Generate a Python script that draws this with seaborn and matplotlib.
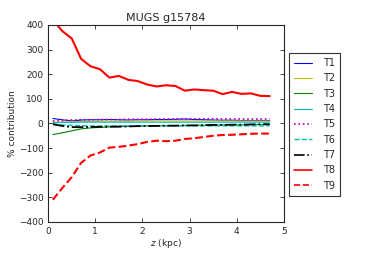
import matplotlib
matplotlib.use("Agg")
import matplotlib.pyplot as plt
from matplotlib.lines import Line2D
import seaborn as sns
import numpy as np
import pandas as pd

z = [0.1, 0.3, 0.5, 0.7, 0.9, 1.1, 1.3, 1.5, 1.7, 1.9, 2.1, 2.3,
     2.5, 2.7, 2.9, 3.1, 3.3, 3.5, 3.7, 3.9, 4.1, 4.3, 4.5, 4.7]

T1 = [20, 15, 10, 14, 15, 15, 16, 15, 14, 15, 15, 16, 16, 17, 18, 16, 15, 14, 13, 13, 12, 12, 12, 12]
T2 = [5, 6, 7, 8, 8, 9, 9, 9, 9, 10, 10, 10, 10, 10, 10, 10, 10, 10, 10, 10, 10, 10, 10, 10]
T3 = [-45, -38, -30, -22, -18, -16, -14, -13, -12, -11, -10, -10, -9, -9, -8, -8, -7, -7, -6, -6, -6, -5, -5, -5]
T4 = [3, 4, 4, 5, 5, 5, 5, 5, 5, 5, 5, 5, 5, 5, 5, 5, 5, 5, 5, 5, 5, 5, 5, 5]
T5 = [10, 12, 14, 15, 15, 16, 16, 16, 17, 17, 17, 18, 18, 18, 19, 19, 19, 19, 18, 18, 18, 18, 18, 18]
T6 = [-3, -6, -8, -9, -10, -10, -10, -10, -10, -10, -10, -10, -10, -10, -10, -10, -10, -10, -10, -10, -10, -10, -10, -10]
T7 = [-3, -10, -15, -15, -14, -14, -13, -13, -12, -11, -10, -10, -9, -9, -8, -8, -7, -6, -6, -5, -5, -4, -3, -3]
T8 = [420, 375, 345, 262, 232, 220, 186, 193, 177, 172, 158, 150,
      155, 152, 133, 138, 135, 133, 119, 128, 120, 122, 112, 111]
T9 = [-310, -262, -218, -160, -130, -118, -98, -95, -90, -84, -75, -70,
      -72, -70, -63, -60, -55, -50, -47, -46, -44, -42, -41, -41]

names = ["T1", "T2", "T3", "T4", "T5", "T6", "T7", "T8", "T9"]
series = [T1, T2, T3, T4, T5, T6, T7, T8, T9]

df = pd.DataFrame({"z": np.tile(z, len(names)),
                   "value": np.concatenate(series),
                   "term": np.repeat(names, len(z))})

sns.set_style("ticks")
plt.rcParams["font.family"] = ["DejaVu Sans"]
plt.rcParams["xtick.direction"] = "in"
plt.rcParams["ytick.direction"] = "in"
plt.rcParams["xtick.top"] = True
plt.rcParams["ytick.right"] = True

colors = ["#0000ff", "#bfbf00", "#008000", "#00bfbf", "#bf00bf",
          "#00bfbf", "#000000", "#ff0000", "#ff0000"]
styles = ["-", "-", "-", "-", ":", "--", "-.", "-", "--"]
widths = [0.8, 0.8, 0.8, 0.8, 1.2, 1.0, 1.3, 1.5, 1.5]

fig = plt.figure(figsize=(3.82, 2.54), dpi=100)
ax = fig.add_axes([0.126, 0.126, 0.617, 0.776])

for name, c, ls, lw in zip(names, colors, styles, widths):
    sub = df[df["term"] == name]
    sns.lineplot(data=sub, x="z", y="value", ax=ax, color=c, linestyle=ls,
                 linewidth=lw, legend=False)

ax.set_xlim(0, 5)
ax.set_ylim(-400, 400)
ax.set_xticks([0, 1, 2, 3, 4, 5])
ax.set_yticks(range(-400, 401, 100))
ax.tick_params(labelsize=6.5, length=3, width=0.6)
for s in ax.spines.values():
    s.set_linewidth(0.8)
ax.set_xlabel("$z$ (kpc)", fontsize=6.5, labelpad=1)
ax.set_ylabel("% contribution", fontsize=6.5, labelpad=1)
ax.set_title("MUGS g15784", fontsize=8, pad=3)

handles = [Line2D([], [], color=c, linestyle=ls, linewidth=min(lw, 1.2))
           for c, ls, lw in zip(colors, styles, widths)]
leg = fig.legend(handles, names, loc="upper left", bbox_to_anchor=(0.757, 0.791),
                 borderaxespad=0, fontsize=7, frameon=True, fancybox=False,
                 edgecolor="black", handlelength=1.8, labelspacing=0.55,
                 borderpad=0.5, handletextpad=1.2)
leg.get_frame().set_linewidth(0.8)

fig.savefig("out.png", dpi=100)
